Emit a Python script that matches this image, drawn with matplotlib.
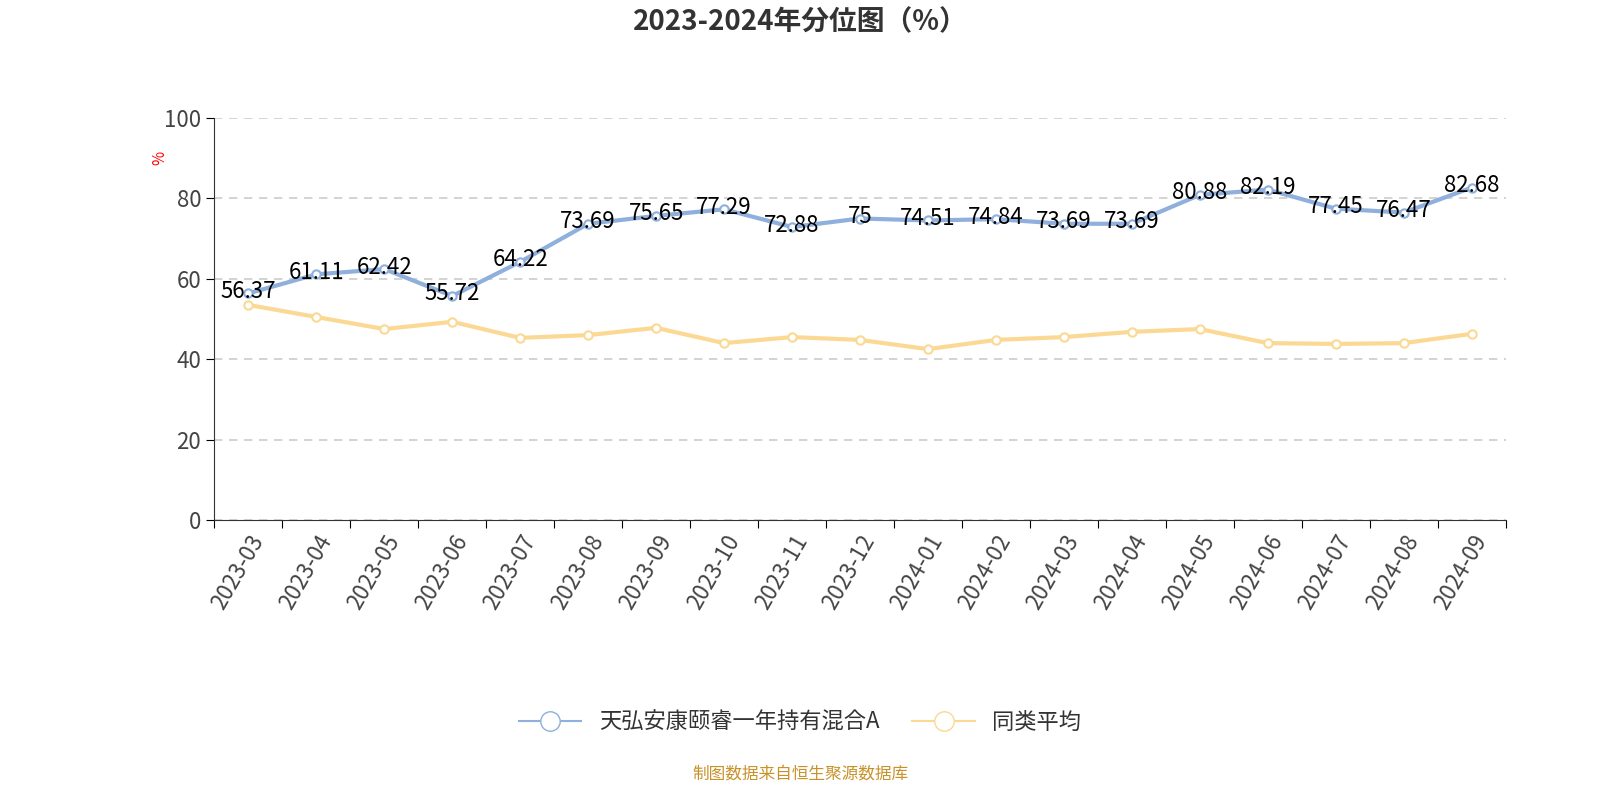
import matplotlib
matplotlib.use("Agg")
import matplotlib.pyplot as plt
from matplotlib import font_manager as fm
from matplotlib.lines import Line2D
import glob, os

cjk = None
for f in fm.findSystemFonts():
    b = os.path.basename(f)
    if 'CJK' in b or 'Cjk' in b:
        try:
            fm.fontManager.addfont(f)
        except Exception:
            pass
names = [f.name for f in fm.fontManager.ttflist if 'CJK' in f.name]
fam = ['Noto Sans CJK SC'] if 'Noto Sans CJK SC' in names else (names[:1] if names else [])
plt.rcParams['font.family'] = fam + ['DejaVu Sans']

months = ["2023-03","2023-04","2023-05","2023-06","2023-07","2023-08","2023-09","2023-10","2023-11","2023-12",
          "2024-01","2024-02","2024-03","2024-04","2024-05","2024-06","2024-07","2024-08","2024-09"]
fund = [56.37,61.11,62.42,55.72,64.22,73.69,75.65,77.29,72.88,75,74.51,74.84,73.69,73.69,80.88,82.19,77.45,76.47,82.68]
avg = [53.5,50.5,47.5,49.3,45.3,46.0,47.8,44.0,45.5,44.8,42.5,44.8,45.5,46.8,47.5,44.0,43.8,44.0,46.3]
fund_label = "天弘安康颐睿一年持有混合A"
avg_label = "同类平均"

fig = plt.figure(figsize=(16, 8), dpi=100)
ax = fig.add_axes([0.134, 0.35, 0.807, 0.5025])
x = list(range(len(months)))
blue = "#8fafdc"; yellow = "#fbd994"
ax.plot(x, fund, color=blue, lw=3, marker='o', ms=6, mfc='white', mec=blue, mew=1.5, zorder=3)
ax.plot(x, avg, color=yellow, lw=3, marker='o', ms=6, mfc='white', mec=yellow, mew=1.5, zorder=3)
for xi, v in zip(x, fund):
    ax.text(xi, v + 0.5, f"{v:g}", ha='center', va='center', fontsize=16, color='black', zorder=4)

ax.set_xlim(-0.5, len(months) - 0.5)
ax.set_ylim(0, 100)
ax.set_yticks([0, 20, 40, 60, 80, 100])
ax.tick_params(axis='y', length=6, labelsize=16, labelcolor='#444444')
ax.yaxis.grid(True, ls=(0, (5, 4)), color='#cccccc', lw=1.2)
ax.set_axisbelow(True)
ax.set_xticks([i - 0.5 for i in range(len(months) + 1)])
ax.set_xticklabels([])
ax.set_xticks(x, minor=True)
ax.set_xticklabels(months, minor=True, rotation=60, ha='right', rotation_mode='anchor', fontsize=16, color='#444444')
ax.tick_params(axis='x', which='minor', length=0, pad=8)
ax.tick_params(axis='x', which='major', length=6)
for s in ['top', 'right']:
    ax.spines[s].set_visible(False)
ax.spines['left'].set_color('#333333'); ax.spines['bottom'].set_color('#333333')
ax.text(-0.042, 0.9, "%", transform=ax.transAxes, color='red', fontsize=11, rotation=90, ha='center', va='center')

fig.text(0.5, 0.972, "2023-2024年分位图（%）", ha='center', va='center', fontsize=20, fontweight='bold', color='#333333')
handles = [Line2D([], [], color=blue, lw=1.5, marker='o', ms=14, mfc='white', mec=blue),
           Line2D([], [], color=yellow, lw=1.5, marker='o', ms=14, mfc='white', mec=yellow)]
fig.legend(handles, [fund_label, avg_label], loc='center', bbox_to_anchor=(0.5, 0.097), ncol=2, frameon=False,
           fontsize=16, handlelength=2.8, columnspacing=1.5, labelcolor='#333333')
fig.text(0.5, 0.033, "制图数据来自恒生聚源数据库", ha='center', va='center', fontsize=12, color='#c8922a')
fig.savefig("out.png")
